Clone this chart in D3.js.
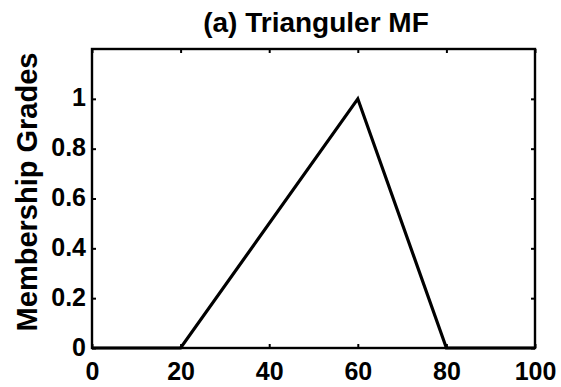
<!DOCTYPE html>
<meta charset="utf-8">
<style>
body { margin: 0; background: #fff; }
svg { display: block; }
.axis text {
  font: bold 25px "Liberation Sans", Arial, sans-serif;
  fill: #000;
}
.axis path,
.axis line {
  fill: none;
  stroke: #000;
}
</style>
<svg width="561" height="387" id="mf"></svg>
<script src="https://d3js.org/d3.v7.min.js"></script>
<script>
// triangular membership function, breakpoints
var xs = [0, 20, 60, 80, 100];
var grades = [0, 0, 1, 0, 0];
var xTicks = [0, 20, 40, 60, 80, 100];
var yTicks = [0, 0.2, 0.4, 0.6, 0.8, 1];
var title = "(a) Trianguler MF";
var yLabel = "Membership Grades";

var svg = d3.select("#mf"),
    margin = {top: 49, right: 26, bottom: 39, left: 92},
    width = +svg.attr("width"),
    height = +svg.attr("height");

var x = d3.scaleLinear()
    .domain([0, 100])
    .range([margin.left, width - margin.right]);

var y = d3.scaleLinear()
    .domain([0, 1.2])
    .range([height - margin.bottom, margin.top]);

// ticks inside the box on all four sides
svg.append("g")
    .attr("class", "axis")
    .attr("transform", `translate(0,${y(0)})`)
    .call(d3.axisBottom(x).tickValues(xTicks).tickSize(-4).tickPadding(14).tickSizeOuter(0))
    .call(g => g.select(".domain").remove());

svg.append("g")
    .attr("class", "axis")
    .attr("transform", `translate(0,${y(1.2)})`)
    .call(d3.axisTop(x).tickValues(xTicks).tickSize(-4).tickFormat("").tickSizeOuter(0))
    .call(g => g.select(".domain").remove());

svg.append("g")
    .attr("class", "axis")
    .attr("transform", `translate(${x(0)},0)`)
    .call(d3.axisLeft(y).tickValues(yTicks).tickSize(-4).tickPadding(6).tickFormat(d3.format("")).tickSizeOuter(0))
    .call(g => g.select(".domain").remove())
    .call(g => g.selectAll(".tick text").attr("dy", "0.28em"));

svg.append("g")
    .attr("class", "axis")
    .attr("transform", `translate(${x(100)},0)`)
    .call(d3.axisRight(y).tickValues(yTicks).tickSize(-4).tickFormat("").tickSizeOuter(0))
    .call(g => g.select(".domain").remove());

svg.selectAll(".axis .tick line").attr("stroke-width", 2);

// frame
svg.append("rect")
    .attr("x", x(0))
    .attr("y", y(1.2))
    .attr("width", x(100) - x(0))
    .attr("height", y(0) - y(1.2))
    .attr("fill", "none")
    .attr("stroke", "#000")
    .attr("stroke-width", 2.4);

var line = d3.line()
    .x((d, i) => x(xs[i]))
    .y(d => y(d));

svg.append("path")
    .datum(grades)
    .attr("d", line)
    .attr("fill", "none")
    .attr("stroke", "#000")
    .attr("stroke-width", 3.2)
    .attr("stroke-linejoin", "miter");

svg.append("text")
    .attr("x", 316)
    .attr("y", 32)
    .attr("text-anchor", "middle")
    .style("font", "bold 28px 'Liberation Sans', Arial, sans-serif")
    .text(title);

svg.append("text")
    .attr("transform", `translate(37,192) rotate(-90)`)
    .attr("text-anchor", "middle")
    .style("font", "bold 29px 'Liberation Sans', Arial, sans-serif")
    .text(yLabel);
</script>
